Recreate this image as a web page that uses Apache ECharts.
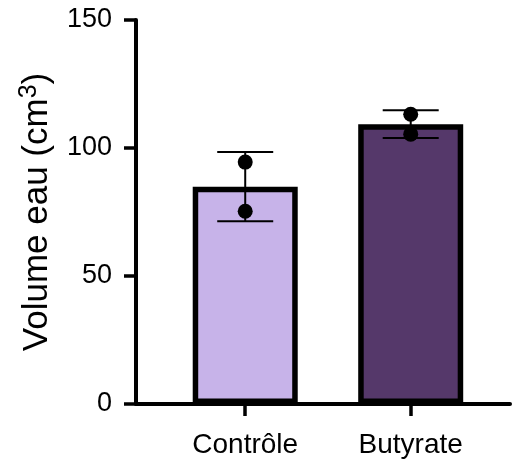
<!DOCTYPE html>
<html>
<head>
<meta charset="utf-8">
<script src="https://cdn.jsdelivr.net/npm/echarts@6/dist/echarts.min.js"></script>
<style>
  html, body { margin: 0; padding: 0; background: #fff; }
  #chart { width: 513px; height: 461px; }
</style>
</head>
<body>
<div id="chart"></div>
<script>
// values
var categories = ['Contrôle', 'Butyrate'];
var means = [84.9, 109.3];
var sds = [13.5, 5.4];
var points = [[94.5, 75.3], [113.2, 105.4]];
var barColors = ['#C7B3E9', '#55386A'];
var yTicks = [0, 50, 100, 150];

var FONT = '"Liberation Sans", Arial, sans-serif';

var barData = means.map(function (m, i) {
    return { value: [i, m], itemStyle: { color: barColors[i] } };
});
var errData = means.map(function (m, i) {
    return [i, m - sds[i], m + sds[i]];
});
var dotData = [];
points.forEach(function (arr, i) {
    arr.forEach(function (v) { dotData.push([i, v]); });
});

var chart = echarts.init(document.getElementById('chart'));
var option = {
    animation: false,
    grid: { left: 136, right: 3, top: 20, bottom: 57 },
    xAxis: {
        type: 'value',
        min: -0.66,
        max: 1.6,
        splitLine: { show: false },
        axisLine: { show: true, onZero: false, lineStyle: { color: '#000', width: 4 } },
        axisTick: { show: true, customValues: [0, 1], length: 12, lineStyle: { color: '#000', width: 3.5 } },
        axisLabel: {
            customValues: [0, 1],
            margin: 27,
            fontFamily: FONT,
            fontSize: 28,
            color: '#000',
            formatter: function (v) { return categories[Math.round(v)]; }
        }
    },
    yAxis: {
        type: 'value',
        min: yTicks[0],
        max: yTicks[yTicks.length - 1],
        interval: 50,
        splitLine: { show: false },
        axisLine: { show: true, onZero: false, lineStyle: { color: '#000', width: 4 } },
        axisTick: { show: true, length: 12, lineStyle: { color: '#000', width: 3.5 } },
        axisLabel: { margin: 24, fontFamily: FONT, fontSize: 27, color: '#000' },
        name: '{a|Volume eau (cm}{s|3}{a|)}',
        nameLocation: 'middle',
        nameGap: 78,
        nameTextStyle: {
            rich: {
                a: { fontFamily: FONT, fontSize: 35, color: '#000' },
                s: { fontFamily: FONT, fontSize: 25, color: '#000', padding: [0, 0, 16, 0] }
            }
        }
    },
    series: [
        {
            type: 'bar',
            data: barData,
            barWidth: 105,
            itemStyle: { borderColor: '#000', borderWidth: 5.5 },
            z: 2
        },
        {
            type: 'custom',
            data: errData,
            z: 3,
            renderItem: function (params, api) {
                var x = api.value(0);
                var lo = api.coord([x, api.value(1)]);
                var hi = api.coord([x, api.value(2)]);
                var half = 28;
                var style = { stroke: '#000', lineWidth: 2 };
                return {
                    type: 'group',
                    children: [
                        { type: 'line', shape: { x1: lo[0], y1: lo[1], x2: hi[0], y2: hi[1] }, style: style },
                        { type: 'line', shape: { x1: lo[0] - half, y1: lo[1], x2: lo[0] + half, y2: lo[1] }, style: style },
                        { type: 'line', shape: { x1: hi[0] - half, y1: hi[1], x2: hi[0] + half, y2: hi[1] }, style: style }
                    ]
                };
            }
        },
        {
            type: 'scatter',
            data: dotData,
            symbol: 'circle',
            symbolSize: 15,
            itemStyle: { color: '#000', opacity: 1 },
            z: 4
        }
    ]
};
chart.setOption(option);
</script>
</body>
</html>
